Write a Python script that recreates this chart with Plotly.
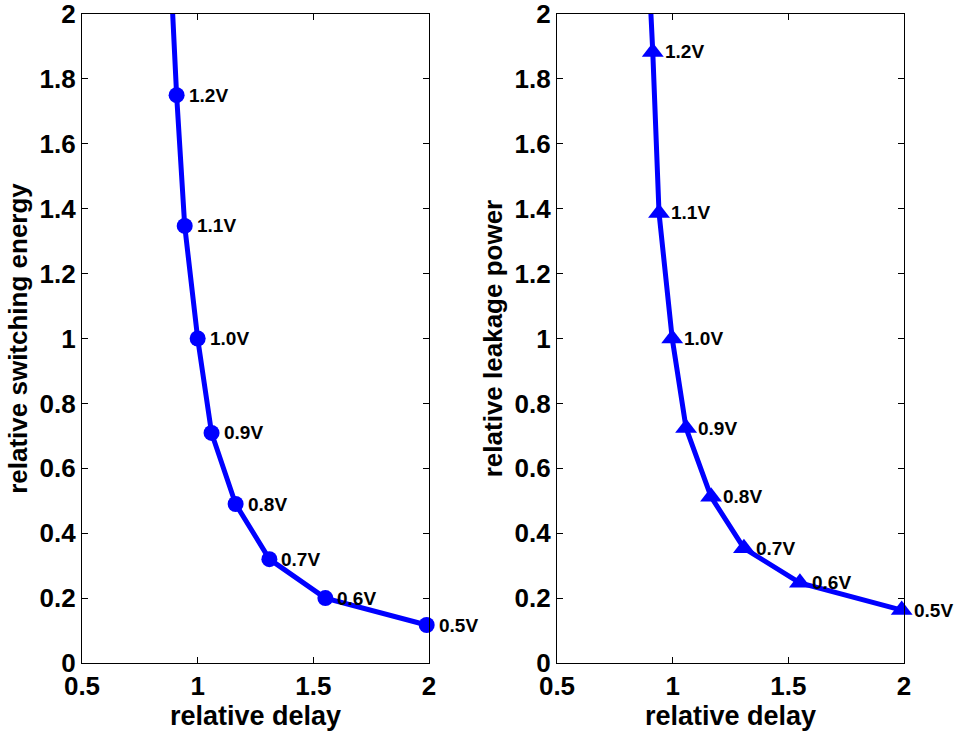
import plotly.graph_objects as go

voltages = ["1.2V", "1.1V", "1.0V", "0.9V", "0.8V", "0.7V", "0.6V", "0.5V"]
delay_sw = [0.909, 0.944, 1.0, 1.06, 1.164, 1.31, 1.552, 1.99]
energy_sw = [1.75, 1.347, 1.0, 0.709, 0.49, 0.32, 0.2, 0.117]
delay_lk = [0.914, 0.941, 0.998, 1.058, 1.166, 1.308, 1.55, 1.99]
power_lk = [1.883, 1.387, 1.0, 0.724, 0.512, 0.354, 0.247, 0.163]
# point above the plotted range (1.3V), only its line segment is visible
extra_sw = (0.875, 2.25)
extra_lk = (0.872, 2.5)

x_ticks = [0.5, 1, 1.5, 2]
y_ticks = [0, 0.2, 0.4, 0.6, 0.8, 1.0, 1.2, 1.4, 1.6, 1.8, 2.0]

BLUE = "#0000FF"
FONT = "Liberation Sans, Arial, sans-serif"

fig = go.Figure()

fig.add_trace(go.Scatter(x=[extra_sw[0]] + delay_sw, y=[extra_sw[1]] + energy_sw,
                         mode="lines", line=dict(color=BLUE, width=5),
                         xaxis="x", yaxis="y", showlegend=False))
fig.add_trace(go.Scatter(x=delay_sw, y=energy_sw, mode="markers",
                         marker=dict(symbol="circle", size=16, color=BLUE),
                         cliponaxis=False, xaxis="x", yaxis="y", showlegend=False))
fig.add_trace(go.Scatter(x=[extra_lk[0]] + delay_lk, y=[extra_lk[1]] + power_lk,
                         mode="lines", line=dict(color=BLUE, width=5),
                         xaxis="x2", yaxis="y2", showlegend=False))
fig.add_trace(go.Scatter(x=delay_lk, y=power_lk, mode="markers",
                         marker=dict(symbol="triangle-up", size=19, color=BLUE),
                         cliponaxis=False, xaxis="x2", yaxis="y2", showlegend=False))

annotations = []
for v, x, y in zip(voltages, delay_sw, energy_sw):
    annotations.append(dict(x=x, y=y, xref="x", yref="y", text=v, showarrow=False,
                            xanchor="left", yanchor="middle", xshift=10,
                            font=dict(family=FONT, size=19, color="black", weight="bold")))
for v, x, y in zip(voltages, delay_lk, power_lk):
    annotations.append(dict(x=x, y=y, xref="x2", yref="y2", text=v, showarrow=False,
                            xanchor="left", yanchor="middle", xshift=10,
                            font=dict(family=FONT, size=19, color="black", weight="bold")))

axis_common = dict(showline=True, linecolor="black", linewidth=1.2, mirror="ticks",
                   ticks="inside", ticklen=6, tickcolor="black", tickwidth=1,
                   showgrid=False, zeroline=False, automargin=False,
                   ticklabeloverflow="allow",
                   tickfont=dict(family=FONT, size=26, color="black", weight="bold"))

xt = dict(text="relative delay", font=dict(family=FONT, size=27, color="black", weight="bold"), standoff=2)

fig.update_layout(
    width=956, height=732,
    margin=dict(l=0, r=0, t=0, b=0),
    paper_bgcolor="white", plot_bgcolor="white",
    annotations=annotations,
    xaxis=dict(domain=[82 / 956, 429 / 956], range=[0.5, 2], tickvals=x_ticks,
               anchor="y", title=xt, **axis_common),
    yaxis=dict(domain=[1 - 663 / 732, 1 - 14 / 732], range=[0, 2], tickvals=y_ticks,
               anchor="x", title=dict(text="relative switching energy",
                                      font=dict(family=FONT, size=26, color="black", weight="bold"),
                                      standoff=4),
               **axis_common),
    xaxis2=dict(domain=[557 / 956, 904 / 956], range=[0.5, 2], tickvals=x_ticks,
                anchor="y2", title=xt, **axis_common),
    yaxis2=dict(domain=[1 - 663 / 732, 1 - 14 / 732], range=[0, 2], tickvals=y_ticks,
                anchor="x2", title=dict(text="relative leakage power",
                                        font=dict(family=FONT, size=26, color="black", weight="bold"),
                                        standoff=4),
                **axis_common),
)

fig.write_html("out.html", config={"displayModeBar": False},
               post_script="document.body.style.margin='0';document.body.style.padding='0';")
